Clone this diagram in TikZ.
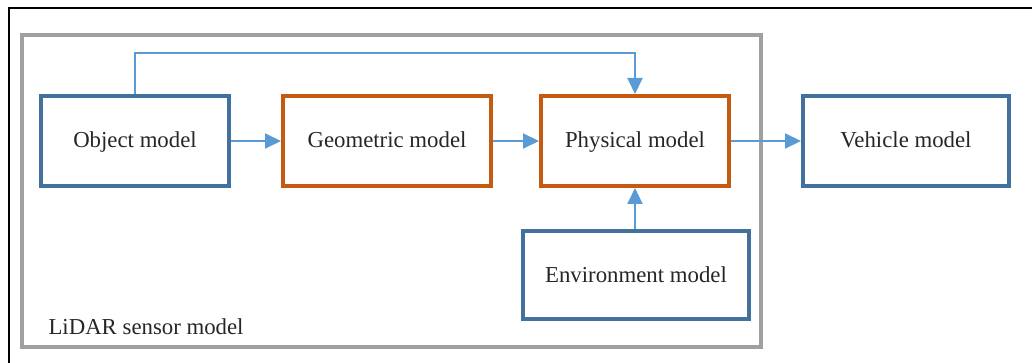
\documentclass[tikz,border=0pt]{standalone}
\usepackage{fontspec}
\setmainfont{Liberation Serif}
\usetikzlibrary{arrows.meta}
\definecolor{boxblue}{HTML}{41719C}
\definecolor{boxorange}{HTML}{C55A11}
\definecolor{framegray}{HTML}{A0A0A0}
\definecolor{flowblue}{HTML}{5B9BD5}
\tikzset{
  model/.style={draw, line width=4pt, fill=white, inner sep=0pt,
    text height=19pt, text depth=5pt,
    font=\fontsize{22.8}{26}\selectfont, text=black!85},
  bluebox/.style={model, draw=boxblue},
  orangebox/.style={model, draw=boxorange},
  flow/.style={draw=flowblue, line width=2pt,
    -{Triangle[length=16pt,width=15pt]}},
}
\begin{document}
\begin{tikzpicture}[x=1pt,y=-1pt]
\useasboundingbox (0,0) rectangle (1032,363);
% outer page frame
\draw[line width=2.2pt] (9,380) -- (9,8) -- (1040,8);
% LiDAR sensor model enclosure
\draw[framegray, line width=4pt] (22,35) rectangle (761,347);
\node[anchor=base west, font=\fontsize{22.8}{26}\selectfont, text=black!85] (lidar) at (45,334) {LiDAR sensor model};
% model blocks
\node[bluebox, minimum width=188pt, minimum height=90pt] (obj) at (135,141) {Object model};
\node[orangebox, minimum width=208pt, minimum height=90pt] (geo) at (387,141) {Geometric model};
\node[orangebox, minimum width=188pt, minimum height=90pt] (phy) at (635,141) {Physical model};
\node[bluebox, minimum width=206pt, minimum height=90pt] (veh) at (906,141) {Vehicle model};
\node[bluebox, minimum width=226pt, minimum height=88pt] (env) at (636,275) {Environment model};
% connectors
\coordinate (tl) at (135,53);
\coordinate (tr) at (635,53);
\draw[flow] (obj) -- (geo);
\draw[flow] (geo) -- (phy);
\draw[flow] (phy) -- (veh);
\draw[flow] (obj.north) -- (tl) -- (tr) -- (phy.north);
\draw[flow] (env.north -| phy.south) -- (phy.south);
\end{tikzpicture}
\end{document}
